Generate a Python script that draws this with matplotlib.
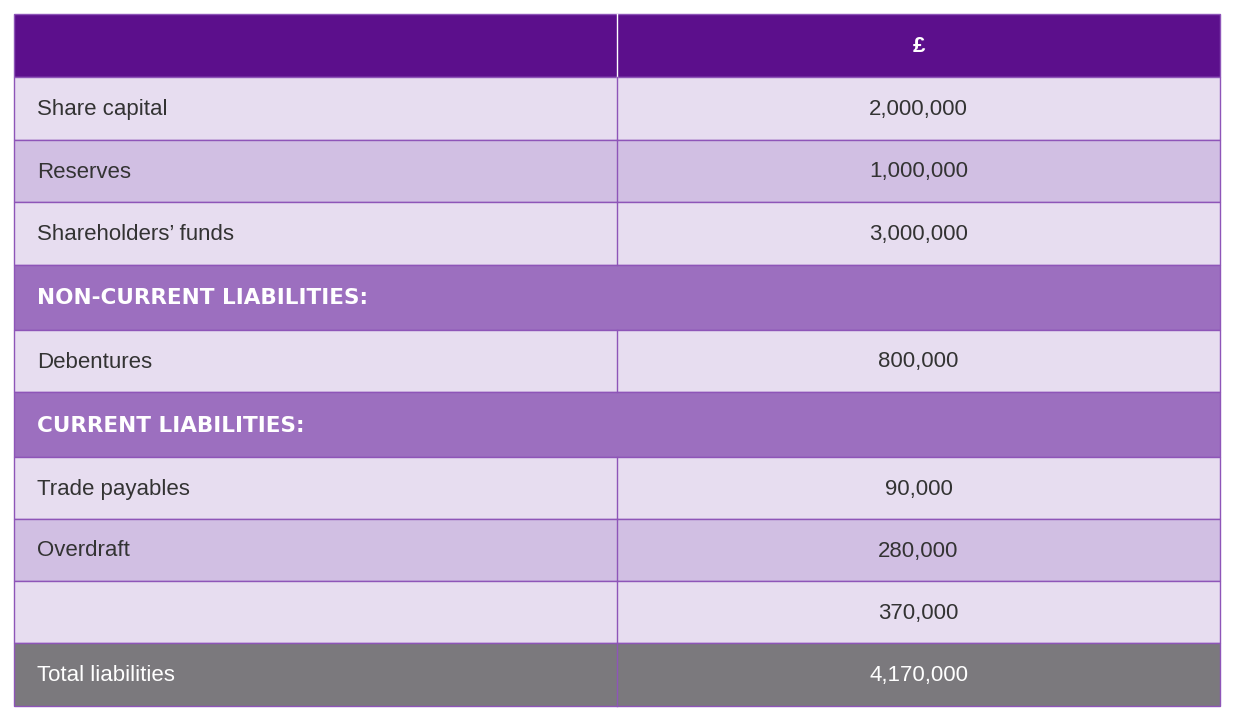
import matplotlib.pyplot as plt
from matplotlib.patches import Rectangle

labels = ["", "Share capital", "Reserves", "Shareholders\u2019 funds", "NON-CURRENT LIABILITIES:",
          "Debentures", "CURRENT LIABILITIES:", "Trade payables", "Overdraft", "", "Total liabilities"]
values = ["\u00a3", "2,000,000", "1,000,000", "3,000,000", "", "800,000", "",
          "90,000", "280,000", "370,000", "4,170,000"]
kinds = ["head", "light", "mid", "light", "section", "light", "section", "light", "mid", "light", "total"]

fills = {"head": "#5c0f8c", "light": "#e7ddf0", "mid": "#d1bfe3", "section": "#9c6fbf", "total": "#7b797d"}
textc = {"head": "white", "light": "#333333", "mid": "#333333", "section": "white", "total": "white"}

fig = plt.figure(figsize=(12.38, 7.22), dpi=100)
ax = fig.add_axes([0, 0, 1, 1])
ax.set_xlim(0, 1238)
ax.set_ylim(722, 0)
ax.axis("off")

x0, xm, x1 = 14, 617, 1220
edges = [14, 77, 140, 202, 265, 330, 392, 457, 519, 581, 643, 706]
line = "#8e55b8"

for i, (lab, val, k) in enumerate(zip(labels, values, kinds)):
    top, bot = edges[i], edges[i + 1]
    h = bot - top
    ax.add_patch(Rectangle((x0, top), x1 - x0, h, facecolor=fills[k], edgecolor=line, lw=1))
    yc = (top + bot) / 2 + 1
    if k == "section":
        ax.text(x0 + 23, yc, lab, ha="left", va="center", fontsize=15.5, color="white",
                fontweight="bold", family="Liberation Sans Narrow")
        continue
    ax.plot([xm, xm], [top, bot], color="#ffffff" if k == "head" else line, lw=1)
    ax.text(x0 + 23, yc, lab, ha="left", va="center", fontsize=16, color=textc[k],
            family="Liberation Sans")
    ax.text((xm + x1) / 2, yc, val, ha="center", va="center", fontsize=16, color=textc[k],
            family="Liberation Sans", fontweight="bold" if k == "head" else "normal")

fig.savefig("out.png", dpi=100)
